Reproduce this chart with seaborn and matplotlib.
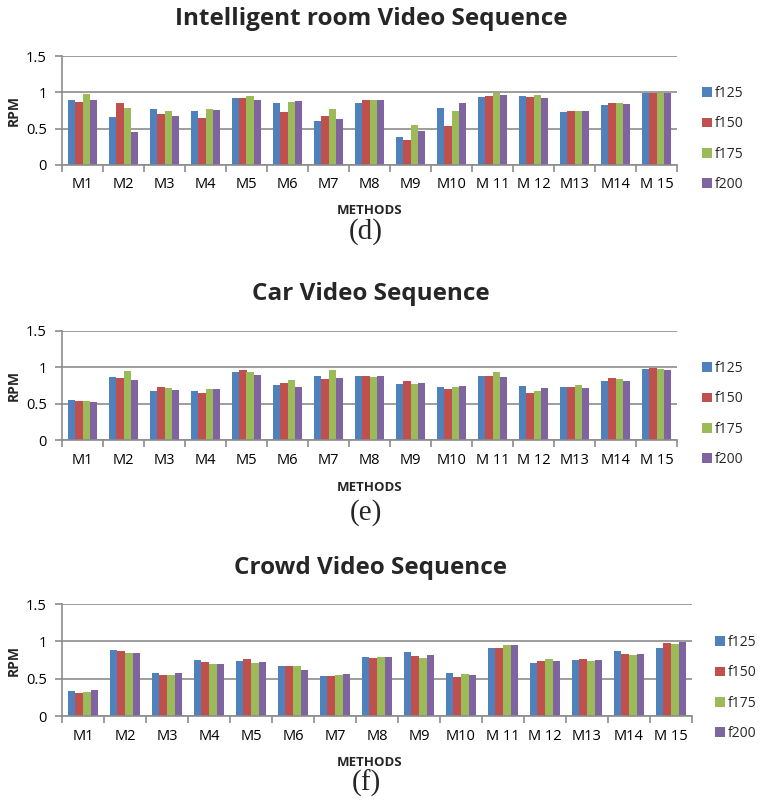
import numpy as np
import pandas as pd
import matplotlib
matplotlib.use("Agg")
import matplotlib.pyplot as plt
import seaborn as sns

# Categories and series
methods = ["M1", "M2", "M3", "M4", "M5", "M6", "M7", "M8", "M9", "M10",
           "M 11", "M 12", "M13", "M14", "M 15"]
frames = ["f125", "f150", "f175", "f200"]

# Intelligent room video sequence
room_f125 = [0.89, 0.66, 0.765, 0.74, 0.92, 0.85, 0.60, 0.86, 0.39, 0.78, 0.935, 0.95, 0.73, 0.82, 0.985]
room_f150 = [0.87, 0.85, 0.70, 0.65, 0.92, 0.73, 0.67, 0.89, 0.35, 0.54, 0.945, 0.935, 0.74, 0.85, 0.985]
room_f175 = [0.98, 0.78, 0.74, 0.77, 0.955, 0.87, 0.765, 0.89, 0.55, 0.74, 0.985, 0.97, 0.74, 0.855, 0.985]
room_f200 = [0.89, 0.45, 0.67, 0.76, 0.89, 0.88, 0.635, 0.89, 0.465, 0.86, 0.965, 0.92, 0.74, 0.845, 0.985]

# Car video sequence
car_f125 = [0.55, 0.87, 0.68, 0.68, 0.94, 0.76, 0.88, 0.885, 0.775, 0.725, 0.885, 0.74, 0.73, 0.815, 0.98]
car_f150 = [0.535, 0.85, 0.725, 0.64, 0.965, 0.78, 0.835, 0.88, 0.815, 0.705, 0.875, 0.65, 0.73, 0.855, 0.985]
car_f175 = [0.53, 0.945, 0.71, 0.705, 0.93, 0.82, 0.965, 0.87, 0.775, 0.725, 0.94, 0.68, 0.755, 0.84, 0.975]
car_f200 = [0.52, 0.825, 0.685, 0.705, 0.895, 0.725, 0.855, 0.875, 0.785, 0.745, 0.865, 0.715, 0.715, 0.81, 0.97]

# Crowd video sequence
crowd_f125 = [0.335, 0.89, 0.57, 0.755, 0.735, 0.67, 0.535, 0.795, 0.855, 0.58, 0.91, 0.715, 0.75, 0.865, 0.915]
crowd_f150 = [0.31, 0.865, 0.545, 0.72, 0.765, 0.665, 0.53, 0.78, 0.81, 0.525, 0.91, 0.74, 0.76, 0.835, 0.975]
crowd_f175 = [0.325, 0.845, 0.555, 0.69, 0.71, 0.67, 0.555, 0.79, 0.775, 0.565, 0.945, 0.765, 0.73, 0.82, 0.96]
crowd_f200 = [0.345, 0.845, 0.575, 0.70, 0.725, 0.62, 0.565, 0.785, 0.82, 0.555, 0.955, 0.74, 0.755, 0.825, 0.985]

titles = ["Intelligent room Video Sequence", "Car Video Sequence", "Crowd Video Sequence"]
captions = ["(d)", "(e)", "(f)"]
yticks = [0, 0.5, 1, 1.5]
ytick_labels = ["0", "0.5", "1", "1.5"]

colors = ["#4F81BD", "#C0504D", "#9BBB59", "#8064A2"]
grid_c = "#8c8c8c"

sns.set_theme(style="ticks")
plt.rcParams["font.family"] = ["Open Sans", "DejaVu Sans"]

W, H = 761, 801
fig = plt.figure(figsize=(W / 100, H / 100), dpi=100)


def px_rect(left, right, top, bottom):
    return [left / W, 1 - bottom / H, (right - left) / W, (bottom - top) / H]


def fx(x):
    return x / W


def fy(y):
    return 1 - y / H


panels = [
    dict(data=[room_f125, room_f150, room_f175, room_f200],
         rect=(62, 677, 56, 165), title_y=19, xlabel_y=210, cap_y=232,
         leg=(702, 139)),
    dict(data=[car_f125, car_f150, car_f175, car_f200],
         rect=(62, 677, 331, 440), title_y=294, xlabel_y=487, cap_y=513,
         leg=(702, 414)),
    dict(data=[crowd_f125, crowd_f150, crowd_f175, crowd_f200],
         rect=(62, 692, 604, 716), title_y=568, xlabel_y=762, cap_y=783,
         leg=(715, 688)),
]

for i, p in enumerate(panels):
    l, r, t, b = p["rect"]
    ax = fig.add_axes(px_rect(l, r, t, b))
    df = pd.DataFrame({
        "method": np.tile(methods, len(frames)),
        "frame": np.repeat(frames, len(methods)),
        "rpm": np.concatenate(p["data"]),
    })
    sns.barplot(data=df, x="method", y="rpm", hue="frame", order=methods,
                hue_order=frames, palette=colors, width=0.73, gap=0,
                saturation=1, errorbar=None, linewidth=0, ax=ax)

    ax.set_xlim(-0.5, len(methods) - 0.5)
    ax.set_ylim(0, 1.5)
    ax.set_yticks(yticks)
    ax.set_yticklabels(ytick_labels)
    ax.yaxis.grid(True, color=grid_c, lw=1.2)
    ax.set_axisbelow(True)
    for s in ["top", "right"]:
        ax.spines[s].set_visible(False)
    for s in ["left", "bottom"]:
        ax.spines[s].set_color(grid_c)
        ax.spines[s].set_linewidth(1.2)

    ax.set_xticks(range(len(methods)))
    ax.set_xticklabels(methods)
    ax.set_xticks(np.arange(-0.5, len(methods), 1), minor=True)
    ax.tick_params(axis="x", which="major", length=0, pad=9, labelsize=10.5,
                   labelcolor="black")
    ax.tick_params(axis="x", which="minor", length=5, width=1.2, color=grid_c,
                   direction="out")
    ax.tick_params(axis="y", length=5, width=1.2, color=grid_c, direction="out",
                   pad=6, labelsize=10.5, labelcolor="black")
    ax.set_xlabel("")
    ax.set_ylabel("")

    lx, ly = p["leg"]
    ax.legend(loc="center left", bbox_to_anchor=(fx(lx), fy(ly)),
              bbox_transform=fig.transFigure, frameon=False, fontsize=10,
              handlelength=0.7, handleheight=0.7, handletextpad=0.25,
              labelspacing=1.1, borderpad=0, borderaxespad=0)

    fig.text(fx(371), fy(p["title_y"]), titles[i], ha="center", va="center",
             fontsize=17.5, fontweight="bold")
    fig.text(fx(14), fy((t + b) / 2), "RPM", ha="center", va="center",
             rotation=90, fontsize=10, fontweight="bold")
    fig.text(fx(370), fy(p["xlabel_y"]), "METHODS", ha="center", va="center",
             fontsize=9.5, fontweight="bold")
    fig.text(fx(366), fy(p["cap_y"]), captions[i], ha="center", va="center",
             fontsize=21, family=["Liberation Serif", "DejaVu Serif"])

fig.savefig("out.png", dpi=100)
